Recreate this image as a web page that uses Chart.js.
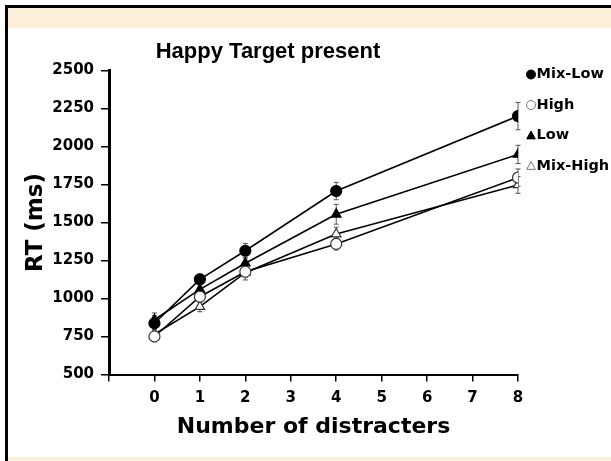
<!DOCTYPE html>
<html>
<head>
<meta charset="utf-8">
<title>Happy Target present</title>
<script src="https://cdn.jsdelivr.net/npm/chart.js@4.4.1/dist/chart.umd.min.js"></script>
<style>
  html, body { margin: 0; padding: 0; background: #fff; overflow: hidden; }
  #wrap { position: relative; width: 611px; height: 461px; overflow: hidden; }
  .frame { position: absolute; left: 5px; top: 5px; width: 610px; height: 460px; border-left: 3px solid #000; border-top: 3px solid #000; }
  .band { position: absolute; left: 8px; right: 0; background: #fcefd9; }
  .band.top { top: 8px; height: 20px; }
  .band.bottom { top: 457px; height: 4px; }
  canvas { position: absolute; left: 0; top: 0; }
</style>
</head>
<body>
<div id="wrap">
  <div class="frame"></div>
  <div class="band top"></div>
  <div class="band bottom"></div>
  <canvas id="rtChart" width="611" height="461"></canvas>
</div>
<script>
// set sizes (number of distracters)
var distracters = [0, 1, 2, 4, 8];

// mean RT in ms per condition
var mixLow  = [837, 1126, 1314, 1707, 2200];
var high    = [750, 1012, 1176, 1359, 1795];
var low     = [860, 1060, 1232, 1554, 1948];
var mixHigh = [765,  946, 1170, 1424, 1747];

// standard errors (ms)
var mixLowErr  = [50, 35, 48, 57, 90];
var highErr    = [35, 35, 35, 40, 57];
var lowErr     = [45, 35, 40, 65, 60];
var mixHighErr = [30, 33, 48, 45, 55];

var seriesNames = ['Mix-Low', 'High', 'Low', 'Mix-High'];

function toPoints(vals) {
  return distracters.map(function (d, i) { return { x: d, y: vals[i] }; });
}

function makeSet(name, vals, errs, style, filled) {
  return {
    label: name,
    data: toPoints(vals),
    errors: errs,
    borderColor: '#000',
    borderWidth: 1.6,
    pointStyle: style,
    pointRadius: 5.5,
    pointBorderWidth: 1.2,
    pointBackgroundColor: filled ? '#000' : '#fff',
    pointBorderColor: filled ? '#000' : '#333',
    filled: filled,
    tension: 0
  };
}

// vertical error bars with small caps, under the markers
var errorBars = {
  id: 'errorBars',
  beforeDatasetsDraw: function (chart) {
    var ctx = chart.ctx, xs = chart.scales.x, ys = chart.scales.y;
    ctx.save();
    ctx.strokeStyle = '#555';
    ctx.lineWidth = 1;
    chart.data.datasets.forEach(function (ds) {
      ds.data.forEach(function (p, i) {
        var e = ds.errors[i];
        var px = xs.getPixelForValue(p.x);
        var top = ys.getPixelForValue(p.y + e);
        var bot = ys.getPixelForValue(p.y - e);
        ctx.beginPath();
        ctx.moveTo(px, top); ctx.lineTo(px, bot);
        ctx.moveTo(px - 2.5, top); ctx.lineTo(px + 2.5, top);
        ctx.moveTo(px - 2.5, bot); ctx.lineTo(px + 2.5, bot);
        ctx.stroke();
      });
    });
    ctx.restore();
  }
};

function marker(ctx, style, x, y, r) {
  ctx.beginPath();
  if (style === 'triangle') {
    ctx.moveTo(x, y - r);
    ctx.lineTo(x + r * 0.95, y + r * 0.75);
    ctx.lineTo(x - r * 0.95, y + r * 0.75);
    ctx.closePath();
  } else {
    ctx.arc(x, y, r, 0, Math.PI * 2);
  }
  ctx.fill();
  ctx.stroke();
}

// stacked legend to the right of the plot
var sideLegend = {
  id: 'sideLegend',
  afterDraw: function (chart) {
    var ctx = chart.ctx, area = chart.chartArea;
    var x = area.right + 13, y = area.top + 4;
    ctx.save();
    ctx.font = 'bold 14.5px "DejaVu Sans"';
    ctx.textBaseline = 'middle';
    chart.data.datasets.forEach(function (ds, k) {
      var cy = y + k * 30.5;
      ctx.lineWidth = 1;
      ctx.fillStyle = ds.filled ? '#000' : '#fff';
      ctx.strokeStyle = ds.filled ? '#000' : '#777';
      marker(ctx, ds.pointStyle, x, cy, 4.5);
      ctx.fillStyle = '#000';
      ctx.fillText(ds.label, x + 5.5, cy);
    });
    ctx.restore();
  }
};

var tickFont = { family: 'DejaVu Sans', size: 15, weight: 'bold' };

new Chart(document.getElementById('rtChart'), {
  type: 'line',
  data: {
    datasets: [
      makeSet(seriesNames[0], mixLow, mixLowErr, 'circle', true),
      makeSet(seriesNames[1], high, highErr, 'circle', false),
      makeSet(seriesNames[2], low, lowErr, 'triangle', true),
      makeSet(seriesNames[3], mixHigh, mixHighErr, 'triangle', false)
    ]
  },
  options: {
    responsive: false,
    animation: false,
    devicePixelRatio: 1,
    layout: { padding: { left: 18, right: 93, top: 30, bottom: 0 } },
    plugins: {
      legend: { display: false },
      tooltip: { enabled: false },
      title: {
        display: true,
        text: 'Happy Target present',
        color: '#000',
        font: { family: 'Liberation Sans', size: 22, weight: 'bold', lineHeight: 1 },
        padding: { top: 11, bottom: 7.5 }
      }
    },
    scales: {
      x: {
        type: 'linear',
        min: -1,
        max: 8,
        afterFit: function (s) { s.height = 86.5; },
        border: { display: true, color: '#000', width: 2 },
        grid: { drawOnChartArea: false, drawTicks: true, tickLength: 7, color: '#000', lineWidth: 1.5 },
        ticks: {
          stepSize: 1,
          maxRotation: 0,
          autoSkip: false,
          padding: 8,
          color: '#000',
          font: tickFont,
          callback: function (v) { return v < 0 ? '' : String(v); }
        },
        title: {
          display: true,
          text: 'Number of distracters',
          color: '#000',
          font: { family: 'DejaVu Sans', size: 22, weight: 'bold', lineHeight: 1 },
          padding: { top: 0, bottom: 23 }
        }
      },
      y: {
        min: 500,
        max: 2500,
        afterFit: function (s) { s.width = 91; },
        border: { display: true, color: '#000', width: 3 },
        grid: { drawOnChartArea: false, drawTicks: true, tickLength: 8, color: '#000', lineWidth: 1.5 },
        ticks: {
          stepSize: 250,
          padding: 7,
          color: '#000',
          font: tickFont,
          callback: function (v) { return String(v); }
        },
        title: {
          display: true,
          text: 'RT (ms)',
          color: '#000',
          font: { family: 'DejaVu Sans', size: 23, weight: 'bold', lineHeight: 1 },
          padding: { top: 6.5, bottom: 0 }
        }
      }
    }
  },
  plugins: [errorBars, sideLegend]
});
</script>
</body>
</html>
